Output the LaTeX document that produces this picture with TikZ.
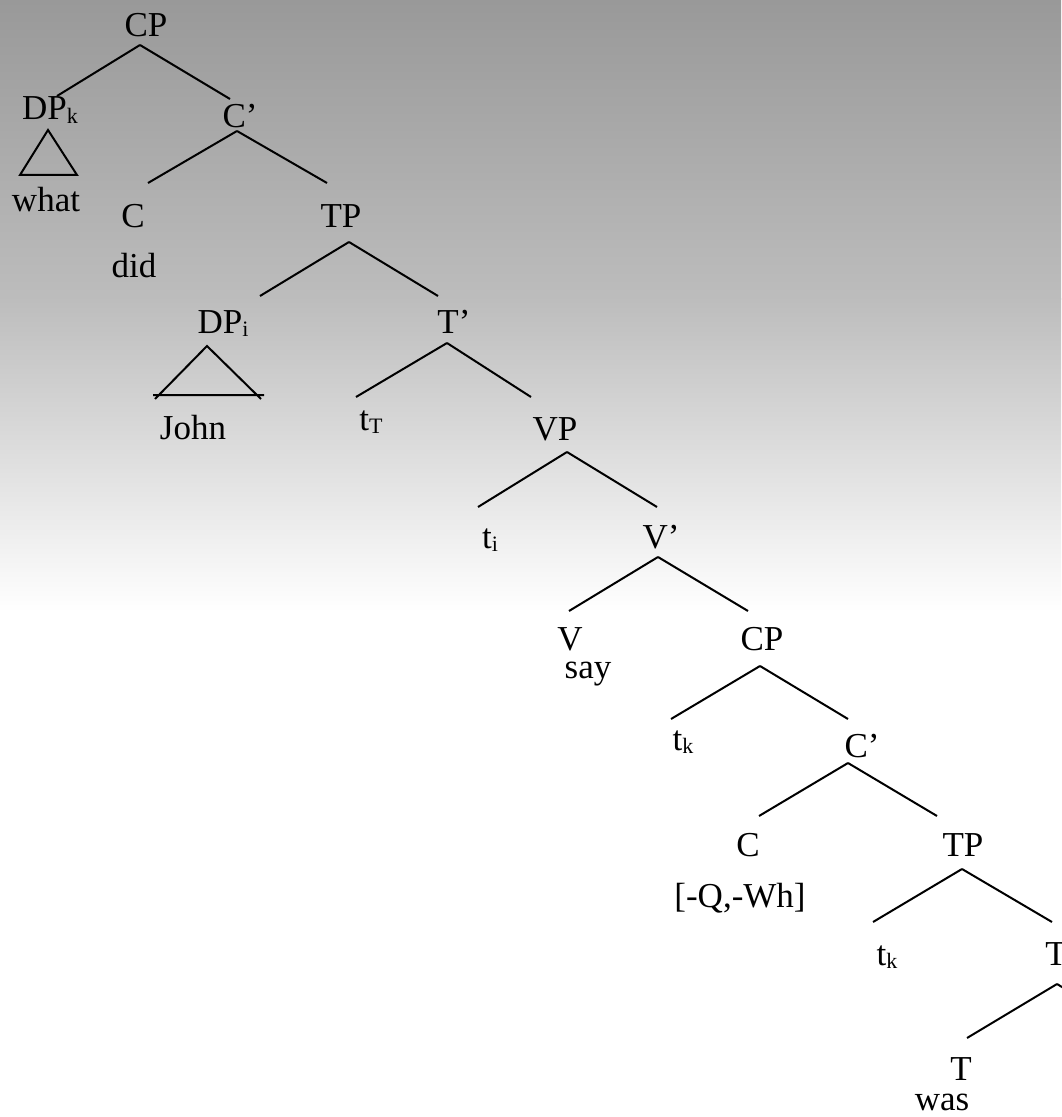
\documentclass[tikz,border=0pt]{standalone}
\usepackage{fontspec}
\setmainfont{Liberation Serif}
\newcommand\low[1]{\raisebox{-.1em}{\fontsize{11}{11}\selectfont #1}}
\begin{document}
\begin{tikzpicture}[x=0.5pt,y=-0.5pt,
  lab/.style={inner sep=0pt,anchor=base,font=\fontsize{17.5}{21}\selectfont},
  br/.style={line width=1pt,draw=black}]
\useasboundingbox (0,0) rectangle (1061,1117);
% backdrop
\fill[white] (0,0) rectangle (1061,1117);
\fill[top color=black!40,bottom color=black!26] (0,0) rectangle (1061,300);
\fill[top color=black!26,bottom color=white] (0,299) rectangle (1061,612);
% labels
\node[lab] (cpa) at (146,37) {CP};
\node[lab] (dpk) at (50,120) {DP\low{k}};
\node[lab] (cba) at (240,128) {C’};
\node[lab] (what) at (46,212) {what};
\node[lab] (ca) at (133,228) {C};
\node[lab] (did) at (134,278) {did};
\node[lab] (tpa) at (341,228) {TP};
\node[lab] (dpi) at (223,333) {DP\low{i}};
\node[lab] (tba) at (454,333) {T’};
\node[lab] (john) at (193,439) {John};
\node[lab] (tt) at (371,430) {t\low{T}};
\node[lab] (vp) at (555,440) {VP};
\node[lab] (ti) at (490,548) {t\low{i}};
\node[lab] (vb) at (661,548) {V’};
\node[lab] (v) at (570,650) {V};
\node[lab] (say) at (588,678) {say};
\node[lab] (cpb) at (762,650) {CP};
\node[lab] (tka) at (683,750) {t\low{k}};
\node[lab] (cbb) at (862,757) {C’};
\node[lab] (cb) at (748,856) {C};
\node[lab] (tpb) at (963,856) {TP};
\node[lab] (feat) at (740,907) {[-Q,-Wh]};
\node[lab] (tkb) at (887,965) {t\low{k}};
\node[lab,anchor=base west] (tbb) at (1045,965) {T’};
\node[lab] (t) at (961,1080) {T};
\node[lab] (was) at (942,1110) {was};
% branch points
\coordinate (cpa-b) at (140,45);  \coordinate (dpk-t) at (57,96);   \coordinate (cba-t) at (230,99);
\coordinate (cba-b) at (237,131); \coordinate (ca-t) at (148,183);  \coordinate (tpa-t) at (327,183);
\coordinate (tpa-b) at (349,242); \coordinate (dpi-t) at (260,296); \coordinate (tba-t) at (438,296);
\coordinate (tba-b) at (447,343); \coordinate (tt-t) at (356,397);  \coordinate (vp-t) at (531,397);
\coordinate (vp-b) at (567,452);  \coordinate (ti-t) at (478,507);  \coordinate (vb-t) at (657,507);
\coordinate (vb-b) at (658,557);  \coordinate (v-t) at (569,611);   \coordinate (cpb-t) at (748,611);
\coordinate (cpb-b) at (760,666); \coordinate (tka-t) at (671,719); \coordinate (cbb-t) at (848,719);
\coordinate (cbb-b) at (848,763); \coordinate (cb-t) at (759,816);  \coordinate (tpb-t) at (937,816);
\coordinate (tpb-b) at (962,869); \coordinate (tkb-t) at (873,922); \coordinate (tbb-t) at (1052,922);
\coordinate (tbb-b) at (1057,984); \coordinate (t-t) at (967,1038); \coordinate (tbb-r) at (1146,1038);
\draw[br] (cpa-b) -- (dpk-t) (cpa-b) -- (cba-t);
\draw[br] (cba-b) -- (ca-t) (cba-b) -- (tpa-t);
\draw[br] (tpa-b) -- (dpi-t) (tpa-b) -- (tba-t);
\draw[br] (tba-b) -- (tt-t) (tba-b) -- (vp-t);
\draw[br] (vp-b) -- (ti-t) (vp-b) -- (vb-t);
\draw[br] (vb-b) -- (v-t) (vb-b) -- (cpb-t);
\draw[br] (cpb-b) -- (tka-t) (cpb-b) -- (cbb-t);
\draw[br] (cbb-b) -- (cb-t) (cbb-b) -- (tpb-t);
\draw[br] (tpb-b) -- (tkb-t) (tpb-b) -- (tbb-t);
\draw[br] (tbb-b) -- (t-t) (tbb-b) -- (tbb-r);
% triangles
\coordinate (what-a) at (48,130); \coordinate (what-l) at (20,175); \coordinate (what-r) at (77,175);
\draw[br] (what-a) -- (what-l) -- (what-r) -- cycle;
\coordinate (john-a) at (207,346); \coordinate (john-l) at (155,399); \coordinate (john-r) at (261,399);
\coordinate (john-bl) at (153,395); \coordinate (john-br) at (264,395);
\draw[br] (john-l) -- (john-a) -- (john-r) (john-bl) -- (john-br);
\end{tikzpicture}
\end{document}
